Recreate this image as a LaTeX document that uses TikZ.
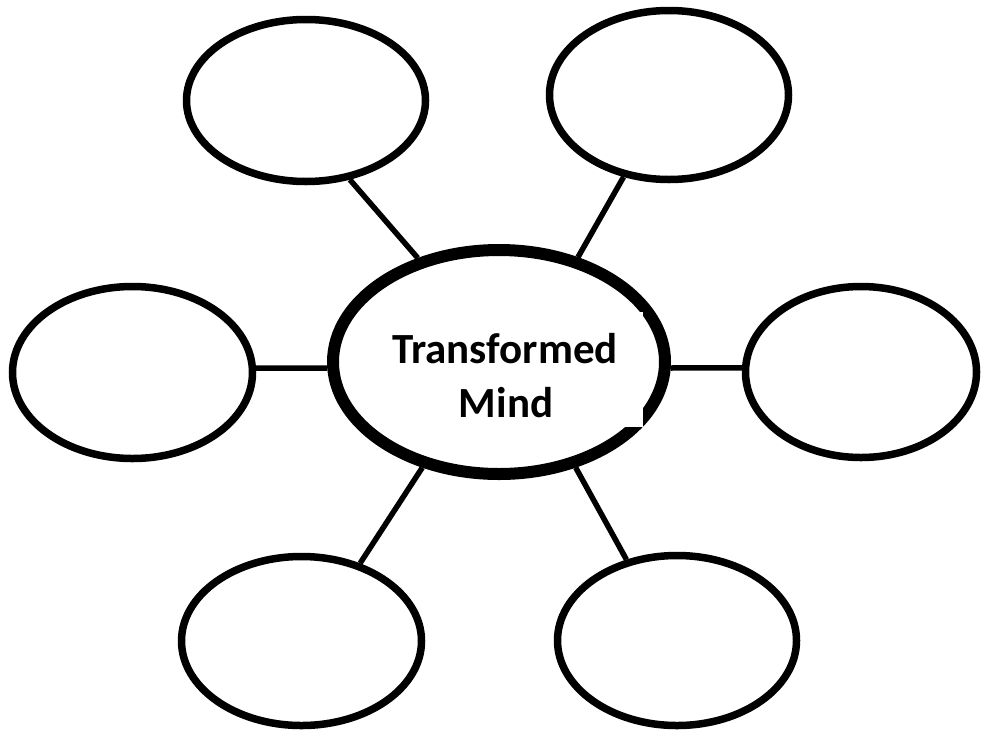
\documentclass[tikz,border=0pt]{standalone}
\usepackage{fontspec}
\setmainfont{Carlito}
\usetikzlibrary{shapes.geometric}
\begin{document}
\begin{tikzpicture}[x=1pt,y=-1pt,
  bubble/.style={ellipse, draw=black, fill=white, line width=7.5pt, inner sep=0pt},
  hub/.style={ellipse, draw=black, fill=white, line width=12pt, inner sep=0pt, minimum width=332pt, minimum height=224pt},
  spoke/.style={draw=black, line width=5.5pt},
  hubtext/.style={font=\bfseries\fontsize{43}{54}\selectfont, inner sep=0pt, anchor=base}]
\useasboundingbox[fill=white] (0,0) rectangle (981,731);
\node[hub] (C) at (499,362) {};
\node[bubble, minimum width=239pt, minimum height=162pt] (TL) at (306,100.5) {};
\node[bubble, minimum width=239pt, minimum height=169pt] (TR) at (669,95) {};
\node[bubble, minimum width=240pt, minimum height=172pt] (L) at (132.5,372.5) {};
\node[bubble, minimum width=231pt, minimum height=171pt] (R) at (861,372) {};
\node[bubble, minimum width=240pt, minimum height=169pt] (BL) at (301.5,641) {};
\node[bubble, minimum width=239pt, minimum height=170pt] (BR) at (677,640.5) {};
\draw[spoke] (TL.-61) -- (C.128);
\draw[spoke] (TR.241) -- (C.53);
\draw[spoke] (L.2) -- (C.182);
\draw[spoke] (R.178) -- (C.-2);
\draw[spoke] (BL.53) -- (C.234);
\draw[spoke] (BR.122) -- (C.-54);
\node[fill=white, inner sep=0pt, minimum width=258pt, minimum height=115pt] (box) at (514,369.5) {};
\node[hubtext] (t1) at (505,363) {Transformed};
\node[hubtext] (t2) at (506,417) {Mind};
\end{tikzpicture}
\end{document}
